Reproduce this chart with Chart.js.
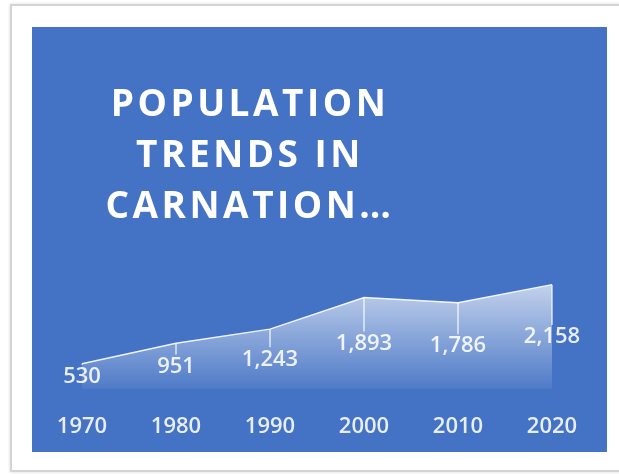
<!DOCTYPE html>
<html>
<head>
<meta charset="utf-8">
<script src="https://cdn.jsdelivr.net/npm/chart.js@4.4.1/dist/chart.umd.min.js"></script>
<style>
  html, body { margin: 0; padding: 0; background: #ffffff; width: 619px; height: 474px; overflow: hidden; position: relative; }
  #card { position: absolute; left: 10px; top: 4px; width: 620px; height: 464px; border: 2px solid #d4d4d4; background: #fff; box-shadow: 0 0 3px rgba(0,0,0,0.15); }
  #blue { position: absolute; left: 32px; top: 27px; width: 575px; height: 425px; background: #4472C4; }
  #wrap { position: absolute; left: 32px; top: 27px; width: 575px; height: 451px; }
  #title { position: absolute; left: 30px; width: 440px; top: 76px; text-align: center; color: #ffffff;
           font-family: "Open Sans", sans-serif; font-weight: 700; font-size: 37px; line-height: 51px; letter-spacing: 3.5px; }
  canvas { position: absolute; left: 0; top: 0; }
</style>
</head>
<body>
<div id="card"></div>
<div id="blue"></div>
<div id="wrap"><canvas id="c"></canvas></div>
<div id="title">POPULATION<br>TRENDS IN<br>CARNATION…</div>
<script>
const categories = ["1970", "1980", "1990", "2000", "2010", "2020"];
const population = [530, 951, 1243, 1893, 1786, 2158];

const labelPlugin = {
  id: 'midLabels',
  afterDatasetsDraw(chart) {
    const ctx = chart.ctx;
    const meta = chart.getDatasetMeta(0);
    const ys = chart.scales.y;
    ctx.save();
    ctx.font = '600 22px "Open Sans", sans-serif';
    ctx.textAlign = 'center';
    ctx.textBaseline = 'middle';
    meta.data.forEach((pt, i) => {
      const v = population[i];
      const ly = ys.getPixelForValue(v / 2);
      ctx.strokeStyle = 'rgba(255,255,255,0.75)';
      ctx.lineWidth = 1.5;
      ctx.beginPath();
      ctx.moveTo(pt.x, pt.y);
      ctx.lineTo(pt.x, Math.max(pt.y, ly - 12));
      ctx.stroke();
      ctx.fillStyle = 'rgba(255,255,255,0.88)';
      ctx.fillText(v.toLocaleString('en-US'), pt.x, ly);
    });
    ctx.restore();
  }
};

new Chart(document.getElementById('c'), {
  type: 'line',
  data: {
    labels: categories,
    datasets: [{
      data: population,
      borderColor: 'rgba(255,255,255,0.9)',
      borderWidth: 1.5,
      pointRadius: 0,
      tension: 0,
      fill: 'origin',
      backgroundColor: (context) => {
        const chart = context.chart;
        const area = chart.chartArea;
        if (!area) return 'rgba(255,255,255,0.4)';
        const ys = chart.scales.y;
        const top = ys.getPixelForValue(Math.max(...population));
        const bottom = ys.getPixelForValue(0);
        const g = chart.ctx.createLinearGradient(0, top, 0, bottom);
        g.addColorStop(0, 'rgba(255,255,255,0.68)');
        g.addColorStop(1, 'rgba(255,255,255,0.06)');
        return g;
      }
    }]
  },
  options: {
    responsive: true,
    maintainAspectRatio: false,
    animation: false,
    layout: { padding: { left: 3, right: 8, top: 241, bottom: 14 } },
    plugins: { legend: { display: false }, tooltip: { enabled: false }, title: { display: false } },
    scales: {
      x: {
        offset: true,
        grid: { display: false, drawTicks: false },
        border: { display: false },
        ticks: { color: 'rgba(255,255,255,0.88)', font: { family: 'Open Sans', size: 22, weight: '600' }, padding: 24 }
      },
      y: { display: false, min: 0, max: 2500 }
    }
  },
  plugins: [labelPlugin]
});
</script>
</body>
</html>
